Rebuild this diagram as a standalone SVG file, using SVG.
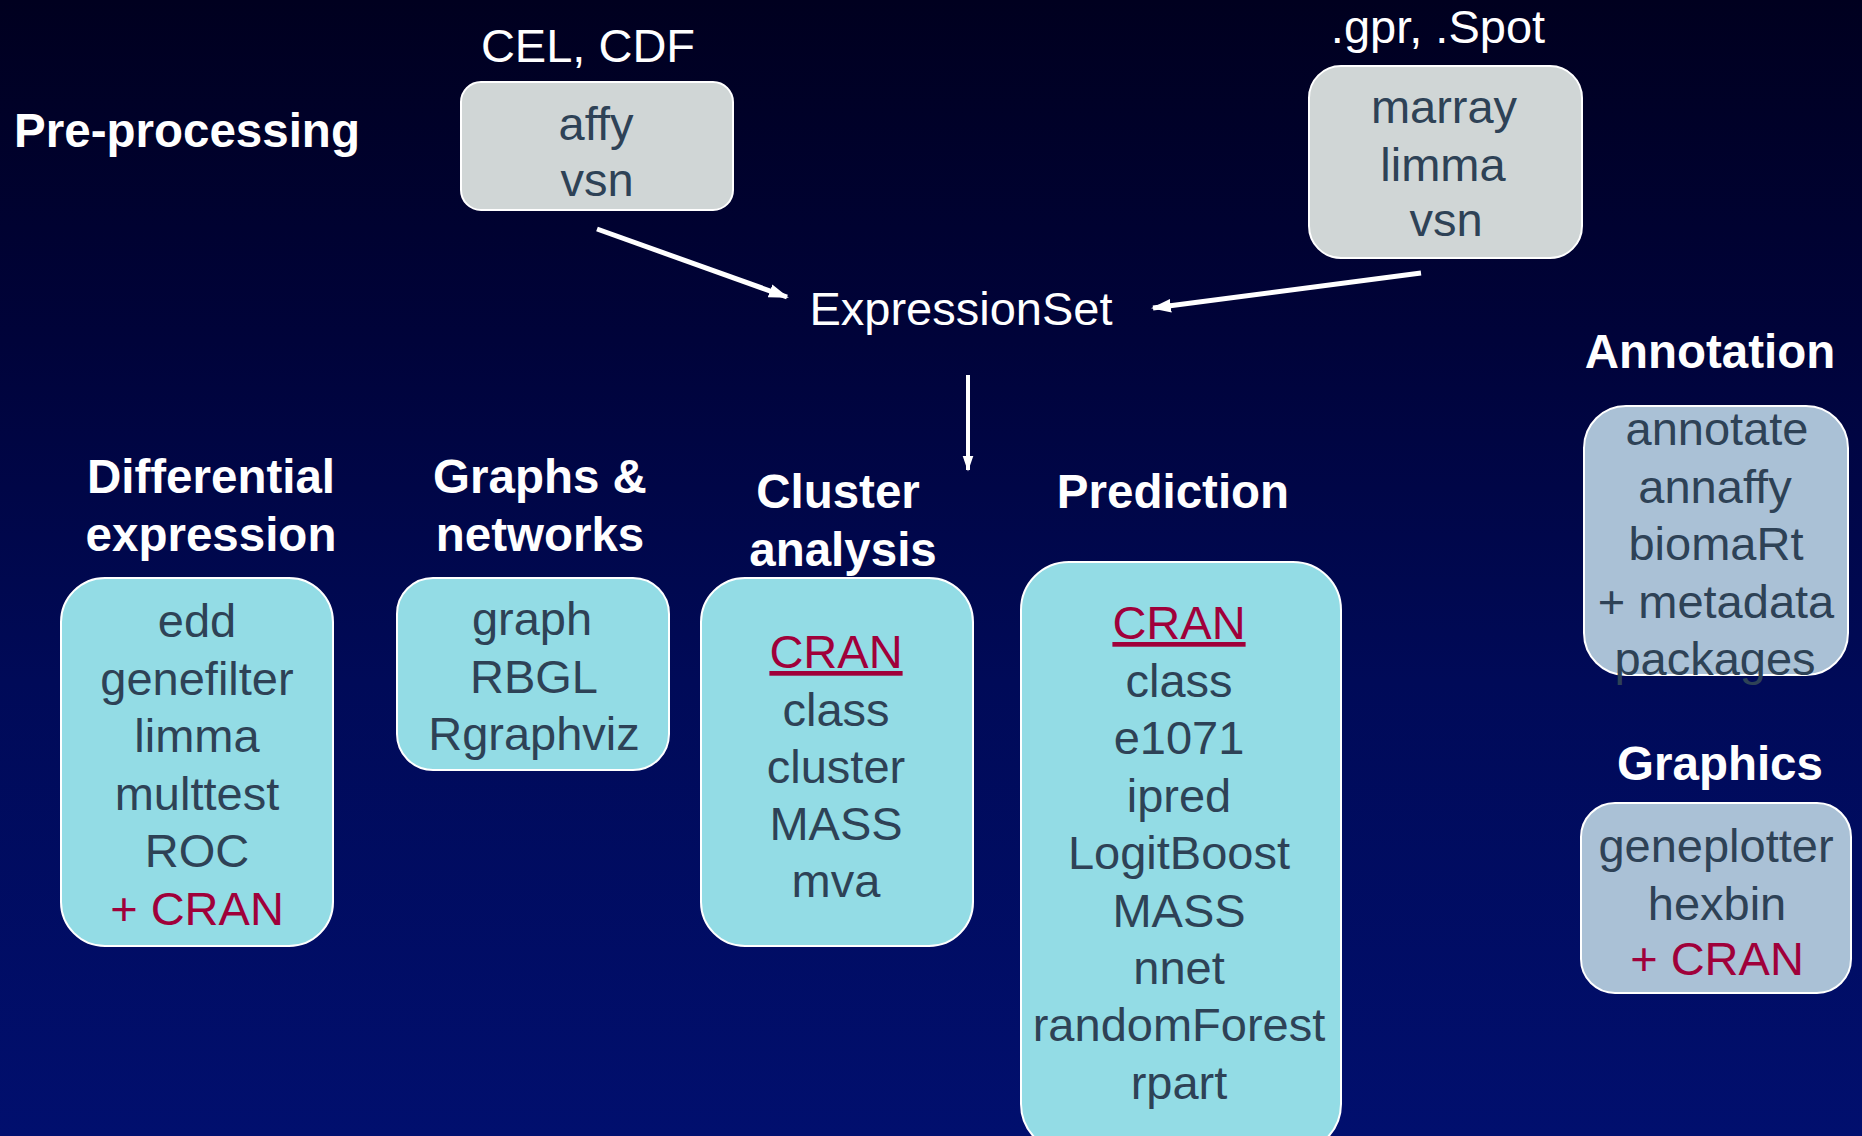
<svg xmlns="http://www.w3.org/2000/svg" width="1862" height="1136" viewBox="0 0 1862 1136">
<defs>
<linearGradient id="bg" x1="0" y1="0" x2="0" y2="1">
<stop offset="0" stop-color="#00001f"/>
<stop offset="0.3" stop-color="#00033a"/>
<stop offset="0.6" stop-color="#000a58"/>
<stop offset="1" stop-color="#010f6e"/>
</linearGradient>
<marker id="ah" viewBox="0 0 10 10" refX="9" refY="5" markerWidth="4" markerHeight="4" orient="auto" markerUnits="strokeWidth">
<path d="M0,1.6 L10,5 L0,8.4 z" fill="#ffffff"/>
</marker>
<style>
.hd{font-family:"Liberation Sans",Arial,sans-serif;font-weight:bold;font-size:47.5px;fill:#ffffff;text-anchor:middle}
.lb{font-family:"Liberation Sans",Arial,sans-serif;font-size:47px;fill:#ffffff;text-anchor:middle}
.tx{font-family:"Liberation Sans",Arial,sans-serif;font-size:47px;fill:#2e4256;text-anchor:middle}
.cr{fill:#a0003a}
.gray{fill:#d0d6d6;stroke:#ffffff;stroke-width:2}
.cyan{fill:#93dce5;stroke:#ffffff;stroke-width:2}
.steel{fill:#aac1d6;stroke:#ffffff;stroke-width:2}
.arr{stroke:#ffffff;stroke-width:5;fill:none;marker-end:url(#ah)}
</style>
</defs>
<rect x="0" y="0" width="1862" height="1136" fill="url(#bg)"/>

<g id="preprocessing-label">
<text class="hd" x="187" y="147">Pre-processing</text>
</g>

<g id="affy-node">
<text class="lb" x="588" y="62">CEL, CDF</text>
<rect class="gray" x="461" y="82" width="272" height="128" rx="20"/>
<text class="tx" x="596" y="140">affy</text>
<text class="tx" x="597" y="196">vsn</text>
</g>

<g id="marray-node">
<text class="lb" x="1438" y="43">.gpr, .Spot</text>
<rect class="gray" x="1309" y="66" width="273" height="192" rx="32"/>
<text class="tx" x="1444" y="123">marray</text>
<text class="tx" x="1443" y="181">limma</text>
<text class="tx" x="1446" y="236">vsn</text>
</g>

<g id="expressionset-node">
<text class="lb" x="961" y="325">ExpressionSet</text>
</g>

<g id="differential-node">
<text class="hd" x="211" y="493">Differential</text>
<text class="hd" x="211" y="551">expression</text>
<rect class="cyan" x="61" y="578" width="272" height="368" rx="44"/>
<text class="tx" x="197" y="637">edd</text>
<text class="tx" x="197" y="695">genefilter</text>
<text class="tx" x="197" y="752">limma</text>
<text class="tx" x="197" y="810">multtest</text>
<text class="tx" x="197" y="867">ROC</text>
<text class="tx cr" x="197" y="925">+ CRAN</text>
</g>

<g id="graphs-node">
<text class="hd" x="540" y="493">Graphs &amp;</text>
<text class="hd" x="540" y="551">networks</text>
<rect class="cyan" x="397" y="578" width="272" height="192" rx="36"/>
<text class="tx" x="532" y="635">graph</text>
<text class="tx" x="534" y="693">RBGL</text>
<text class="tx" x="534" y="750">Rgraphviz</text>
</g>

<g id="cluster-node">
<text class="hd" x="838" y="508">Cluster</text>
<text class="hd" x="843" y="566">analysis</text>
<rect class="cyan" x="701" y="578" width="272" height="368" rx="44"/>
<text class="tx cr" x="836" y="668" text-decoration="underline">CRAN</text>
<text class="tx" x="836" y="726">class</text>
<text class="tx" x="836" y="783">cluster</text>
<text class="tx" x="836" y="840">MASS</text>
<text class="tx" x="836" y="897">mva</text>
</g>

<g id="prediction-node">
<text class="hd" x="1173" y="508">Prediction</text>
<rect class="cyan" x="1021" y="562" width="320" height="590" rx="48"/>
<text class="tx cr" x="1179" y="639" text-decoration="underline">CRAN</text>
<text class="tx" x="1179" y="697">class</text>
<text class="tx" x="1179" y="754">e1071</text>
<text class="tx" x="1179" y="812">ipred</text>
<text class="tx" x="1179" y="869">LogitBoost</text>
<text class="tx" x="1179" y="927">MASS</text>
<text class="tx" x="1179" y="984">nnet</text>
<text class="tx" x="1179" y="1041">randomForest</text>
<text class="tx" x="1179" y="1099">rpart</text>
</g>

<g id="annotation-node">
<text class="hd" x="1710" y="368">Annotation</text>
<rect class="steel" x="1584" y="406" width="264" height="269" rx="42"/>
<text class="tx" x="1717" y="445">annotate</text>
<text class="tx" x="1715" y="503">annaffy</text>
<text class="tx" x="1716" y="560">biomaRt</text>
<text class="tx" x="1716" y="618">+ metadata</text>
<text class="tx" x="1715" y="675">packages</text>
</g>

<g id="graphics-node">
<text class="hd" x="1720" y="780">Graphics</text>
<rect class="steel" x="1581" y="803" width="270" height="190" rx="34"/>
<text class="tx" x="1716" y="862">geneplotter</text>
<text class="tx" x="1717" y="920">hexbin</text>
<text class="tx cr" x="1717" y="975">+ CRAN</text>
</g>

<g id="connectors">
<line class="arr" x1="597" y1="229" x2="787" y2="297"/>
<line class="arr" x1="1421" y1="273" x2="1153" y2="308"/>
<line class="arr" x1="968" y1="375" x2="968" y2="470" style="stroke-width:4"/>
</g>
</svg>
